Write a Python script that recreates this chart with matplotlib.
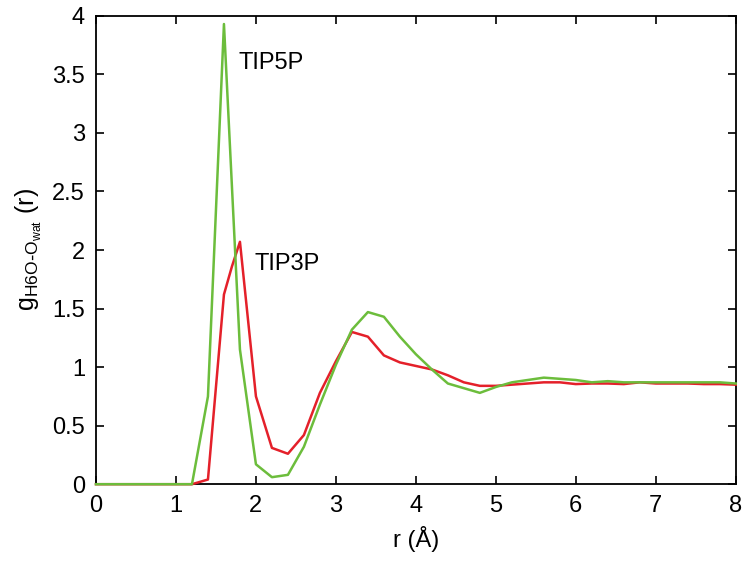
import matplotlib.pyplot as plt
import numpy as np

plt.rcParams['font.family'] = ['Liberation Sans', 'DejaVu Sans']

# TIP5P (green)
r_tip5p = [0, 0.2, 0.4, 0.6, 0.8, 1.0, 1.2, 1.4, 1.6, 1.8, 2.0, 2.2, 2.4, 2.6, 2.8,
           3.0, 3.2, 3.4, 3.6, 3.8, 4.0, 4.2, 4.4, 4.6, 4.8, 5.0, 5.2, 5.4, 5.6,
           5.8, 6.0, 6.2, 6.4, 6.6, 6.8, 7.0, 7.2, 7.4, 7.6, 7.8, 8.0]
g_tip5p = [0, 0, 0, 0, 0, 0, 0, 0.75, 3.93, 1.15, 0.17, 0.06, 0.08, 0.32, 0.68,
           1.02, 1.32, 1.47, 1.43, 1.26, 1.11, 0.98, 0.86, 0.82, 0.78, 0.83,
           0.87, 0.89, 0.91, 0.90, 0.89, 0.87, 0.88, 0.87, 0.87, 0.87, 0.87,
           0.87, 0.87, 0.87, 0.86]

# TIP3P (red)
r_tip3p = [0, 0.2, 0.4, 0.6, 0.8, 1.0, 1.2, 1.4, 1.6, 1.7, 1.8, 2.0, 2.2, 2.4, 2.6,
           2.8, 3.0, 3.2, 3.4, 3.6, 3.8, 4.0, 4.2, 4.4, 4.6, 4.8, 5.0, 5.2, 5.4,
           5.6, 5.8, 6.0, 6.2, 6.4, 6.6, 6.8, 7.0, 7.2, 7.4, 7.6, 7.8, 8.0]
g_tip3p = [0, 0, 0, 0, 0, 0, 0, 0.04, 1.62, 1.86, 2.07, 0.75, 0.31, 0.26, 0.42,
           0.78, 1.05, 1.30, 1.26, 1.10, 1.04, 1.01, 0.98, 0.93, 0.87, 0.84,
           0.84, 0.85, 0.86, 0.87, 0.87, 0.855, 0.86, 0.86, 0.855, 0.87, 0.86,
           0.86, 0.86, 0.855, 0.855, 0.85]

fig = plt.figure(figsize=(7.5, 5.65), dpi=100)
ax = fig.add_axes([0.128, 0.143, 0.853, 0.829])

ax.plot(r_tip3p, g_tip3p, color='#e4202a', lw=1.8, clip_on=False, zorder=3)
ax.plot(r_tip5p, g_tip5p, color='#6cbd3c', lw=1.8, clip_on=False, zorder=4)

ax.text(1.78, 3.6, 'TIP5P', fontsize=17, va='center')
ax.text(1.98, 1.88, 'TIP3P', fontsize=17, va='center')

ax.set_xlim(0, 8)
ax.set_ylim(0, 4)
ax.set_xticks(np.arange(0, 9, 1))
ax.set_yticks(np.arange(0, 4.01, 0.5))
ax.set_yticklabels(['0', '0.5', '1', '1.5', '2', '2.5', '3', '3.5', '4'])
ax.tick_params(direction='in', top=True, right=True, length=6, width=1.2,
               labelsize=17, pad=8)
for s in ax.spines.values():
    s.set_lw(1.3)

ax.set_xlabel('r (Å)', fontsize=17, labelpad=6)
ax.set_ylabel(r'g$_{\mathregular{H6O}\text{-}\mathregular{O}_{\mathregular{wat}}}$ (r)',
              fontsize=18, labelpad=6)

fig.savefig('out.png', dpi=100)
